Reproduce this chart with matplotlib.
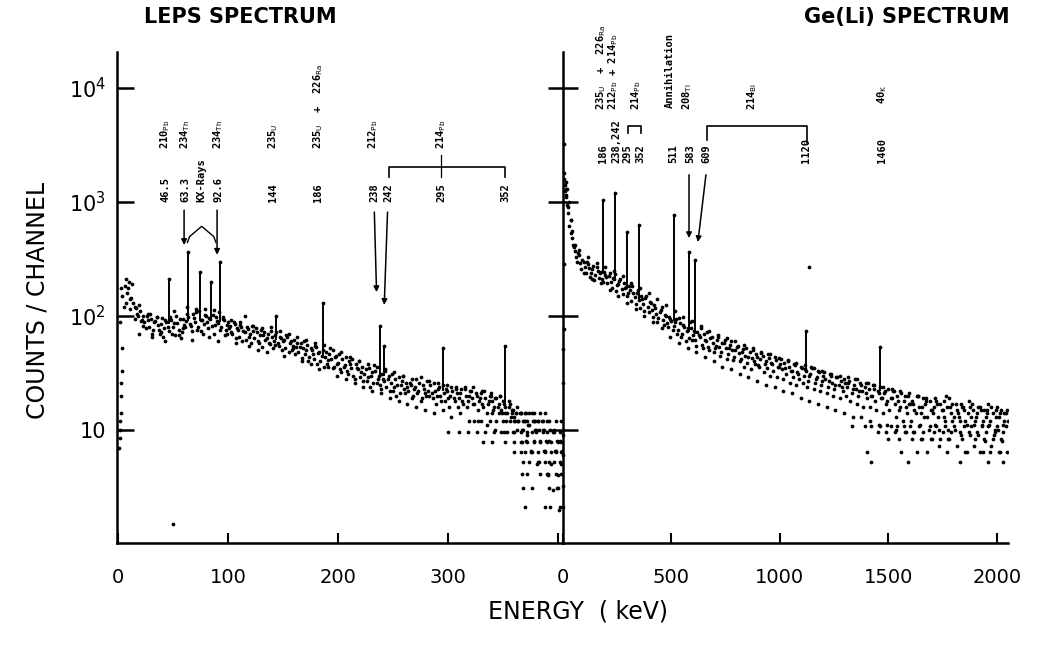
import numpy as np
import matplotlib
matplotlib.use("Agg")
import matplotlib.pyplot as plt
from matplotlib.ticker import NullLocator
from matplotlib.transforms import blended_transform_factory

# --- LEPS spectrum: counts per channel ---
leps_e_a = np.arange(4, 405, 2)
leps_a = [150, 185, 160, 200, 145, 130, 118, 100, 110, 92,
          88, 100, 80, 95, 75, 90, 84, 70, 96, 78,
          88, 74, 92, 80, 68, 86, 95, 72, 84, 90,
          98, 82, 105, 88, 76, 110, 92, 85, 100, 79,
          95, 102, 84, 90, 108, 80, 92, 75, 88, 82,
          70, 85, 78, 66, 80, 74, 62, 77, 70, 82,
          64, 72, 58, 75, 68, 62, 70, 57, 66, 60,
          72, 55, 64, 60, 52, 66, 58, 50, 62, 54,
          48, 58, 52, 46, 56, 44, 50, 42, 53, 47,
          40, 50, 44, 38, 46, 42, 36, 45, 39, 34,
          42, 37, 33, 40, 35, 30, 38, 34, 29, 36,
          31, 27, 35, 30, 26, 33, 28, 25, 31, 27,
          24, 30, 26, 22, 28, 25, 21, 27, 23, 26,
          22, 25, 20, 24, 21, 26, 19, 23, 20, 22,
          25, 19, 22, 20, 24, 18, 21, 23, 19, 20,
          22, 18, 21, 19, 23, 17, 20, 18, 22, 19,
          17, 20, 18, 21, 16, 19, 17, 20, 18, 16,
          19, 17, 15, 18, 16, 14, 17, 15, 13, 14,
          12, 14, 10, 12, 9, 11, 14, 8, 10, 12,
          8, 10, 6.5, 12, 8, 5, 10, 6.5, 4, 8,
          6.5]
leps_e_b = np.arange(5, 404, 2)
leps_b = [120, 210, 175, 140, 190, 120, 105, 125, 90, 100,
          78, 92, 105, 70, 88, 98, 76, 85, 66, 92,
          80, 98, 70, 86, 100, 76, 64, 94, 80, 105,
          85, 74, 96, 115, 80, 92, 70, 102, 88, 96,
          82, 70, 98, 86, 76, 94, 68, 84, 78, 72,
          88, 64, 76, 84, 60, 72, 80, 66, 58, 74,
          78, 60, 68, 54, 72, 64, 58, 74, 52, 68,
          58, 66, 50, 62, 68, 48, 60, 55, 46, 58,
          54, 43, 60, 50, 40, 52, 46, 55, 38, 48,
          45, 36, 48, 41, 52, 35, 44, 38, 46, 32,
          36, 44, 31, 38, 42, 28, 35, 40, 32, 27,
          34, 29, 24, 32, 37, 26, 30, 23, 28, 33,
          28, 22, 31, 24, 20, 29, 25, 30, 21, 24,
          26, 19, 23, 28, 22, 18, 25, 21, 27, 20,
          21, 26, 17, 23, 20, 25, 18, 22, 16, 24,
          19, 23, 16, 21, 18, 24, 16, 20, 22, 17,
          21, 15, 19, 17, 22, 14, 18, 20, 15, 19,
          16, 20, 14, 17, 12, 16, 13, 15, 12, 10,
          14, 10, 12, 8, 11, 6.5, 12, 10, 5, 10,
          12, 6.5, 8, 4, 10, 3, 6.5, 8, 2, 5]
leps_e_c = np.arange(3, 404, 4)
leps_c = [175, 130, 115, 95, 70, 82, 105, 66, 98, 72,
          60, 95, 110, 68, 78, 120, 62, 108, 74, 115,
          65, 112, 60, 98, 70, 92, 58, 88, 100, 55,
          82, 50, 78, 48, 80, 56, 74, 45, 70, 52,
          66, 40, 62, 38, 58, 34, 56, 36, 50, 30,
          48, 28, 44, 26, 40, 24, 38, 22, 36, 21,
          34, 19, 32, 18, 30, 17, 28, 16, 29, 15,
          27, 14, 26, 15, 25, 13, 24, 14, 23, 12,
          24, 12, 22, 11, 21, 10, 20, 9.6, 18, 9.6,
          16, 7.8, 14, 6.4, 12, 5.2, 10, 4.1, 9.6, 3.1,
          7.8]
# quantised low-count rows at the high-energy end
leps_row_levels = [14, 12, 9.6, 7.8, 6.4, 5.2, 4.1, 3.1, 2.1]
leps_row_e = [[340, 346, 352, 358, 362, 366, 370, 374, 378, 384, 388],
              [324, 330, 338, 344, 350, 356, 360, 364, 368, 372, 378, 382, 386, 392, 398, 403],
              [300, 310, 318, 326, 334, 342, 348, 354, 360, 366, 372, 376, 380, 386, 390, 396, 402],
              [332, 340, 352, 360, 366, 372, 378, 384, 390, 394, 400],
              [360, 366, 370, 376, 382, 388, 394, 398, 403],
              [368, 374, 382, 388, 392, 396, 402],
              [367, 372, 384, 390, 398, 403],
              [368, 376, 392, 400],
              [370, 388, 393, 402]]
leps_edge_e = [1, 1.5, 2, 2.5, 3, 3, 3.5, 4, 2, 1.5, 50]
leps_edge = [7, 8.5, 12, 14, 20, 26, 33, 52, 88, 10, 1.5]
leps_peak_e = [46.5, 63.3, 74.5, 84.5, 92.6, 144, 186, 238, 242, 295, 352]
leps_peak_base = [85, 90, 90, 90, 88, 62, 45, 30, 30, 22, 17]
leps_peak_top = [210, 365, 245, 200, 300, 100, 130, 82, 55, 52, 55]

# --- Ge(Li) spectrum ---
geli_e_a = np.arange(10, 2051, 10)
geli_a = [1400, 950, 620, 480, 400, 330, 360, 290, 310, 270,
          295, 262, 240, 275, 228, 250, 236, 212, 244, 218,
          226, 198, 214, 232, 186, 204, 172, 196, 178, 160,
          168, 182, 146, 158, 138, 150, 128, 144, 120, 132,
          112, 124, 104, 96, 114, 92, 102, 86, 98, 90,
          82, 94, 76, 86, 70, 80, 74, 64, 78, 68,
          62, 72, 66, 56, 70, 60, 54, 64, 58, 52,
          62, 54, 48, 58, 52, 46, 56, 50, 44, 53,
          47, 42, 51, 45, 39, 48, 43, 40, 46, 37,
          42, 45, 38, 35, 43, 39, 33, 41, 36, 38,
          34, 39, 31, 36, 33, 29, 37, 32, 28, 35,
          30, 33, 27, 31, 35, 26, 29, 32, 25, 30,
          28, 24, 31, 26, 23, 29, 25, 27, 22, 26,
          24, 27, 21, 25, 23, 20, 26, 22, 24, 19,
          23, 20, 25, 18, 22, 24, 19, 21, 17, 23,
          19, 22, 17, 20, 15, 21, 18, 16, 20, 17,
          18, 15, 20, 16, 14, 19, 17, 13, 18, 15,
          16, 18, 13, 17, 15, 12, 16, 19, 14, 13,
          17, 14, 12, 16, 15, 11, 18, 13, 15, 12,
          14, 16, 11, 15, 13, 17, 12, 14, 10, 16,
          13, 15, 11, 14, 12]
geli_e_b = np.arange(5, 2046, 10)
geli_b = [1600, 1150, 800, 540, 420, 370, 300, 340, 260, 300,
          240, 285, 220, 260, 205, 270, 215, 245, 200, 230,
          195, 240, 175, 210, 165, 190, 210, 155, 175, 150,
          185, 135, 160, 128, 170, 118, 140, 110, 150, 108,
          130, 98, 118, 88, 108, 120, 84, 100, 80, 94,
          76, 88, 70, 96, 66, 84, 60, 78, 88, 62,
          74, 55, 68, 78, 52, 62, 72, 50, 66, 48,
          55, 66, 45, 58, 62, 42, 52, 60, 41, 50,
          55, 40, 48, 36, 52, 44, 34, 50, 38, 44,
          36, 47, 32, 40, 46, 30, 38, 44, 29, 36,
          42, 28, 35, 40, 26, 33, 38, 25, 31, 36,
          26, 34, 24, 30, 36, 23, 28, 33, 22, 27,
          32, 21, 27, 30, 20, 25, 29, 19, 24, 28,
          20, 26, 18, 23, 28, 17, 22, 25, 16, 21,
          26, 16, 20, 23, 15, 21, 19, 14, 22, 18,
          15, 19, 22, 13, 18, 16, 12, 20, 14, 17,
          12, 17, 14, 20, 11, 16, 13, 18, 10, 15,
          14, 11, 17, 10, 15, 13, 20, 10, 16, 12,
          10, 15, 13, 9, 16, 12, 14, 9, 17, 11,
          13, 9, 15, 12, 8, 14, 11, 16, 9, 13,
          10, 14, 8, 12, 15]
geli_e_c = np.arange(15, 2036, 20)
geli_c = [1300, 700, 420, 380, 240, 330, 210, 290, 195, 270,
          170, 250, 150, 225, 130, 195, 115, 175, 100, 160,
          88, 140, 78, 125, 66, 110, 58, 98, 52, 90,
          48, 82, 44, 74, 40, 68, 36, 64, 34, 60,
          31, 56, 29, 52, 27, 48, 25, 46, 24, 43,
          22, 41, 21, 39, 19, 37, 18, 35, 17, 33,
          16, 31, 15, 30, 14, 29, 13, 28, 13, 26,
          12, 25, 11, 24, 11, 23, 10, 22, 9.6, 21,
          9.6, 20, 8.3, 19, 8.3, 19, 7.3, 18, 8.3, 17,
          7.3, 17, 6.4, 16, 7.3, 16, 6.4, 15, 7.3, 15,
          6.4, 14]
geli_row_levels = [10.9, 9.6, 8.3, 6.4, 5.2]
geli_row_e = [[1330, 1390, 1420, 1460, 1510, 1540, 1570, 1600, 1640, 1690, 1720, 1760, 1800, 1850, 1880, 1930, 1960, 2000, 2040],
              [1450, 1490, 1530, 1580, 1620, 1660, 1710, 1750, 1790, 1830, 1870, 1910, 1950, 1990, 2030],
              [1500, 1550, 1610, 1650, 1700, 1740, 1780, 1840, 1900, 1940, 1980, 2020],
              [1400, 1560, 1630, 1680, 1770, 1860, 1920, 1970, 2010, 2045],
              [1420, 1590, 1830, 1960, 2030]]
geli_edge_e = [1, 1, 1, 2, 2, 2, 3, 3, 4, 6, 8, 12, 15, 20, 24, 30, 36, 44, 1135]
geli_edge = [2.1, 3.2, 6, 9, 26, 51, 77, 285, 3200, 1800, 1250, 1500, 1100, 1300, 900, 1000, 700, 560, 270]
geli_peak_e = [186, 238, 295, 352, 511, 583, 609, 1120, 1460]
geli_peak_base = [240, 210, 175, 140, 90, 72, 70, 33, 22]
geli_peak_top = [1050, 1200, 550, 630, 770, 365, 310, 74, 53]

MONO = "DejaVu Sans Mono"
LBL = 7.5
MS = 2.7

fig = plt.figure(figsize=(10.4, 6.54), dpi=100)
ax1 = fig.add_axes([0.1125, 0.1697, 0.4288, 0.7508])
ax2 = fig.add_axes([0.5413, 0.1697, 0.4279, 0.7508])


def draw_spectrum(ax, series, rows, edge, peaks):
    for e, c in series:
        ax.plot(e[:len(c)], c, 'o', ms=MS, color='k', mec='none')
    levels, row_e = rows
    for lev, es in zip(levels, row_e):
        ax.plot(es, [lev] * len(es), 'o', ms=MS, color='k', mec='none')
    ax.plot(edge[0], edge[1], 'o', ms=MS, color='k', mec='none', clip_on=False)
    pe, pb, pt = peaks
    ax.vlines(pe, pb, pt, color='k', lw=1.4)
    ax.plot(pe, pt, 'o', ms=MS, color='k', mec='none')


draw_spectrum(ax1, [(leps_e_a, leps_a), (leps_e_b, leps_b), (leps_e_c, leps_c)],
              (leps_row_levels, leps_row_e), (leps_edge_e, leps_edge),
              (leps_peak_e, leps_peak_base, leps_peak_top))
draw_spectrum(ax2, [(geli_e_a, geli_a), (geli_e_b, geli_b), (geli_e_c, geli_c)],
              (geli_row_levels, geli_row_e), (geli_edge_e, geli_edge),
              (geli_peak_e, geli_peak_base, geli_peak_top))

for ax in (ax1, ax2):
    ax.set_yscale('log')
    ax.set_ylim(1.02, 20700)
    ax.yaxis.set_minor_locator(NullLocator())
    for s in ('top', 'right'):
        ax.spines[s].set_visible(False)
    for s in ('left', 'bottom'):
        ax.spines[s].set_linewidth(1.8)
    ax.set_yticks([10, 100, 1000, 10000])
    ax.tick_params(axis='x', direction='in', length=7, width=1.5, pad=18, labelsize=14)

ax1.set_xlim(-1, 404.5)
ax1.set_xticks([0, 100, 200, 300, 400])
ax1.set_xticklabels(['0', '100', '200', '300', ''])
ax1.set_yticklabels(['10', '$10^2$', '$10^3$', '$10^4$'])
ax1.tick_params(axis='y', direction='in', length=12, width=1.8, pad=8, labelsize=15)

ax2.set_xlim(0, 2051)
ax2.set_xticks([0, 500, 1000, 1500, 2000])
ax2.set_xticklabels(['0', '500', '1000', '1500', '2000'])
ax2.tick_params(axis='y', direction='inout', length=22, width=1.8, labelleft=False)


def vlabel(ax, e, frac, s):
    tr = blended_transform_factory(ax.transData, ax.transAxes)
    ax.text(e, frac, s, transform=tr, rotation=90, ha='center', va='bottom',
            fontsize=LBL, family=MONO, fontweight='bold')


def seg(ax, xs, ys, lw=1.2):
    tr = blended_transform_factory(ax.transData, ax.transAxes)
    ax.plot(xs, ys, color='k', lw=lw, transform=tr, clip_on=False)


def arrow(ax, e0, f0, e1, f1):
    tr = blended_transform_factory(ax.transData, ax.transAxes)
    ax.annotate('', xy=(e1, f1), xytext=(e0, f0), xycoords=tr, textcoords=tr,
                arrowprops=dict(arrowstyle='-|>', color='k', lw=1.1,
                                mutation_scale=8, shrinkA=0, shrinkB=0))


# LEPS annotations
for e, s in [(43, '210$_{\\rm Pb}$'), (61, '234$_{\\rm Th}$'), (91, '234$_{\\rm Th}$'),
             (141, '235$_{\\rm U}$'), (182, '235$_{\\rm U}$  +  226$_{\\rm Ra}$'),
             (232, '212$_{\\rm Pb}$'), (294, '214$_{\\rm Pb}$')]:
    vlabel(ax1, e, 0.803, s)
for e, s in [(43, '46.5'), (61, '63.3'), (76, 'KX-Rays'), (91, '92.6'), (141, '144'),
             (182, '186'), (233, '238'), (246, '242'), (294, '295'), (352, '352')]:
    vlabel(ax1, e, 0.694, s)
seg(ax1, [246, 246, 352, 352], [0.745, 0.766, 0.766, 0.745])
seg(ax1, [294, 294], [0.745, 0.790], lw=0.9)
seg(ax1, [63, 65, 76, 87, 89], [0.612, 0.624, 0.645, 0.624, 0.612], lw=1.0)
arrow(ax1, 60, 0.678, 60, 0.607)
arrow(ax1, 90, 0.678, 90, 0.587)
arrow(ax1, 233, 0.674, 235, 0.511)
arrow(ax1, 245, 0.674, 242, 0.485)

# Ge(Li) annotations
for e, s, f in [(175, '235$_{\\rm U}$  +  226$_{\\rm Ra}$', 0.882),
                (230, '212$_{\\rm Pb}$ + 214$_{\\rm Pb}$', 0.882),
                (335, '214$_{\\rm Pb}$', 0.882), (493, 'Annihilation', 0.885),
                (571, '208$_{\\rm Tl}$', 0.882), (871, '214$_{\\rm Bi}$', 0.882),
                (1470, '40$_{\\rm K}$', 0.895)]:
    vlabel(ax2, e, f, s)
for e, s in [(184, '186'), (244, '238,242'), (295, '295'), (355, '352'), (507, '511'),
             (585, '583'), (659, '609'), (1120, '1120'), (1470, '1460')]:
    vlabel(ax2, e, 0.774, s)
seg(ax2, [300, 300, 360, 360], [0.835, 0.849, 0.849, 0.835])
seg(ax2, [664, 664, 1124, 1124], [0.821, 0.849, 0.849, 0.815])
arrow(ax2, 581, 0.750, 581, 0.621)
arrow(ax2, 659, 0.750, 622, 0.613)

fig.text(240 / 1040, 1 - 17 / 654, 'LEPS SPECTRUM', ha='center', va='center',
         fontsize=15, fontweight='bold')
fig.text(907 / 1040, 1 - 17 / 654, 'Ge(Li) SPECTRUM', ha='center', va='center',
         fontsize=15, fontweight='bold')
fig.text(38 / 1040, 1 - 300 / 654, 'COUNTS / CHANNEL', rotation=90, ha='center',
         va='center', fontsize=17)
fig.text(578 / 1040, 1 - 612 / 654, 'ENERGY  ( keV)', ha='center', va='center',
         fontsize=17)

fig.savefig('out.png', dpi=100)
